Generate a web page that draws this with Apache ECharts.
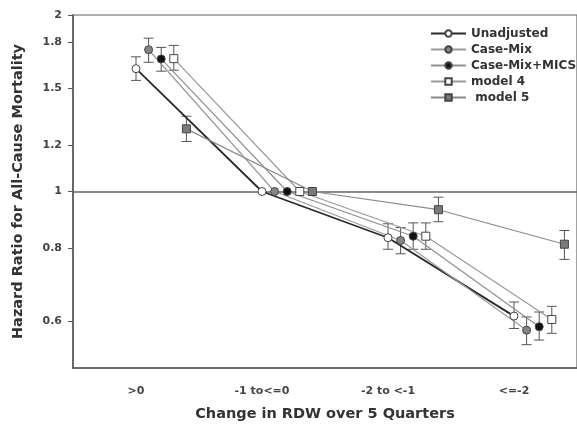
<!DOCTYPE html>
<html>
<head>
<meta charset="utf-8">
<script src="https://cdn.jsdelivr.net/npm/echarts@6/dist/echarts.min.js"></script>
<style>html,body{margin:0;padding:0;background:#fff;}#c{width:577px;height:427px;}</style>
</head>
<body>
<div id="c"></div>
<script>
var categories = ['>0', '-1 to<=0', '-2 to <-1', '<=-2'];
var yTicks = [0.6, 0.8, 1, 1.2, 1.5, 1.8, 2];

var seriesNames = ['Unadjusted', 'Case-Mix', 'Case-Mix+MICS', 'model 4', ' model 5'];

var unadjusted   = [1.62, 1.0, 0.834, 0.613];
var unadjustedLo = [1.547, null, 0.797, 0.584];
var unadjustedHi = [1.697, null, 0.881, 0.648];

var caseMix   = [1.745, 1.0, 0.825, 0.580];
var caseMixLo = [1.661, null, 0.783, 0.548];
var caseMixHi = [1.826, null, 0.868, 0.611];

var mics   = [1.683, 1.0, 0.839, 0.588];
var micsLo = [1.604, null, 0.797, 0.558];
var micsHi = [1.761, null, 0.884, 0.623];

var model4   = [1.685, 1.0, 0.839, 0.605];
var model4Lo = [1.610, null, 0.797, 0.573];
var model4Hi = [1.775, null, 0.884, 0.637];

var model5   = [1.279, 1.0, 0.931, 0.813];
var model5Lo = [1.217, null, 0.888, 0.766];
var model5Hi = [1.344, null, 0.978, 0.858];

var values = [unadjusted, caseMix, mics, model4, model5];
var lows = [unadjustedLo, caseMixLo, micsLo, model4Lo, model5Lo];
var highs = [unadjustedHi, caseMixHi, micsHi, model4Hi, model5Hi];

// styling
var offsets = [0, 0.1, 0.2, 0.3, 0.4];
var symbols = ['circle', 'circle', 'circle', 'rect', 'rect'];
var fills = ['#ffffff', '#858585', '#111111', '#ffffff', '#7a7a7a'];
var lineColors = ['#2a2a2a', '#9a9a9a', '#8f8f8f', '#9a9a9a', '#8a8a8a'];
var lineWidths = [1.8, 1.2, 1.2, 1.2, 1.2];

var FONT = '"DejaVu Sans", "Liberation Sans", Arial, sans-serif';

var chart = echarts.init(document.getElementById('c'), null, {renderer: 'canvas'});

var series = [];
values.forEach(function (vals, s) {
  var data = vals.map(function (v, i) { return [i + offsets[s], v]; });
  var ser = {
    name: seriesNames[s],
    type: 'line',
    xAxisIndex: 1,
    data: data,
    symbol: symbols[s],
    symbolSize: 8,
    showSymbol: true,
    z: 5,
    itemStyle: {color: fills[s], borderColor: '#444', borderWidth: 1},
    lineStyle: {color: lineColors[s], width: lineWidths[s]},
    emphasis: {disabled: true},
    animation: false
  };
  if (s === 0) {
    ser.markLine = {
      silent: true,
      symbol: 'none',
      label: {show: false},
      lineStyle: {color: '#666', width: 1.5, type: 'solid'},
      data: [{yAxis: 1}],
      animation: false
    };
  }
  series.push(ser);

  var eb = [];
  vals.forEach(function (v, i) {
    if (lows[s][i] != null) eb.push([i + offsets[s], lows[s][i], highs[s][i]]);
  });
  series.push({
    type: 'custom',
    xAxisIndex: 1,
    z: 3,
    silent: true,
    animation: false,
    data: eb,
    encode: {x: 0, y: [1, 2]},
    renderItem: function (params, api) {
      var x = api.value(0);
      var lo = api.coord([x, api.value(1)]);
      var hi = api.coord([x, api.value(2)]);
      var hw = 5;
      var st = {stroke: '#555', lineWidth: 1};
      return {
        type: 'group',
        children: [
          {type: 'line', shape: {x1: lo[0], y1: lo[1], x2: hi[0], y2: hi[1]}, style: st},
          {type: 'line', shape: {x1: lo[0] - hw, y1: lo[1], x2: lo[0] + hw, y2: lo[1]}, style: st},
          {type: 'line', shape: {x1: hi[0] - hw, y1: hi[1], x2: hi[0] + hw, y2: hi[1]}, style: st}
        ]
      };
    }
  });
});

chart.setOption({
  animation: false,
  backgroundColor: '#ffffff',
  grid: {left: 73, top: 15, right: -9, bottom: 55, show: true, borderColor: '#666', borderWidth: 1.2, backgroundColor: 'transparent'},
  legend: {
    data: seriesNames,
    orient: 'vertical',
    left: 425,
    top: 22,
    padding: 5,
    itemWidth: 35,
    itemHeight: 8,
    itemGap: 3,
    textStyle: {fontFamily: FONT, fontWeight: 'bold', fontSize: 12, color: '#333', lineHeight: 13}
  },
  xAxis: [{
    type: 'category',
    data: categories,
    boundaryGap: true,
    name: 'Change in RDW over 5 Quarters',
    nameLocation: 'middle',
    nameGap: 39,
    nameTextStyle: {fontFamily: FONT, fontWeight: 'bold', fontSize: 14.5, color: '#333'},
    axisLine: {lineStyle: {color: '#555', width: 1.5}},
    axisTick: {alignWithLabel: true, length: 4, lineStyle: {color: '#555'}},
    axisLabel: {fontFamily: FONT, fontWeight: 'bold', fontSize: 11, color: '#444', margin: 18},
    splitLine: {show: false}
  }, {
    type: 'value',
    min: -0.5,
    max: 3.5,
    show: false,
    splitLine: {show: false}
  }],
  yAxis: {
    type: 'log',
    logBase: 2,
    min: 0.5,
    max: 2,
    name: 'Hazard Ratio for All-Cause Mortality',
    nameLocation: 'middle',
    nameGap: 47,
    nameTextStyle: {fontFamily: FONT, fontWeight: 'bold', fontSize: 14.5, color: '#333'},
    axisLine: {show: true, onZero: false, lineStyle: {color: '#555', width: 1.5}},
    axisTick: {show: true, length: 5, customValues: yTicks, lineStyle: {color: '#555'}},
    axisLabel: {
      customValues: yTicks,
      fontFamily: FONT, fontWeight: 'bold', fontSize: 11, color: '#444', margin: 11,
      formatter: function (v) { return String(+(+v).toFixed(2)); }
    },
    splitLine: {show: false},
    minorTick: {show: false}
  },
  series: series
});
</script>
</body>
</html>
